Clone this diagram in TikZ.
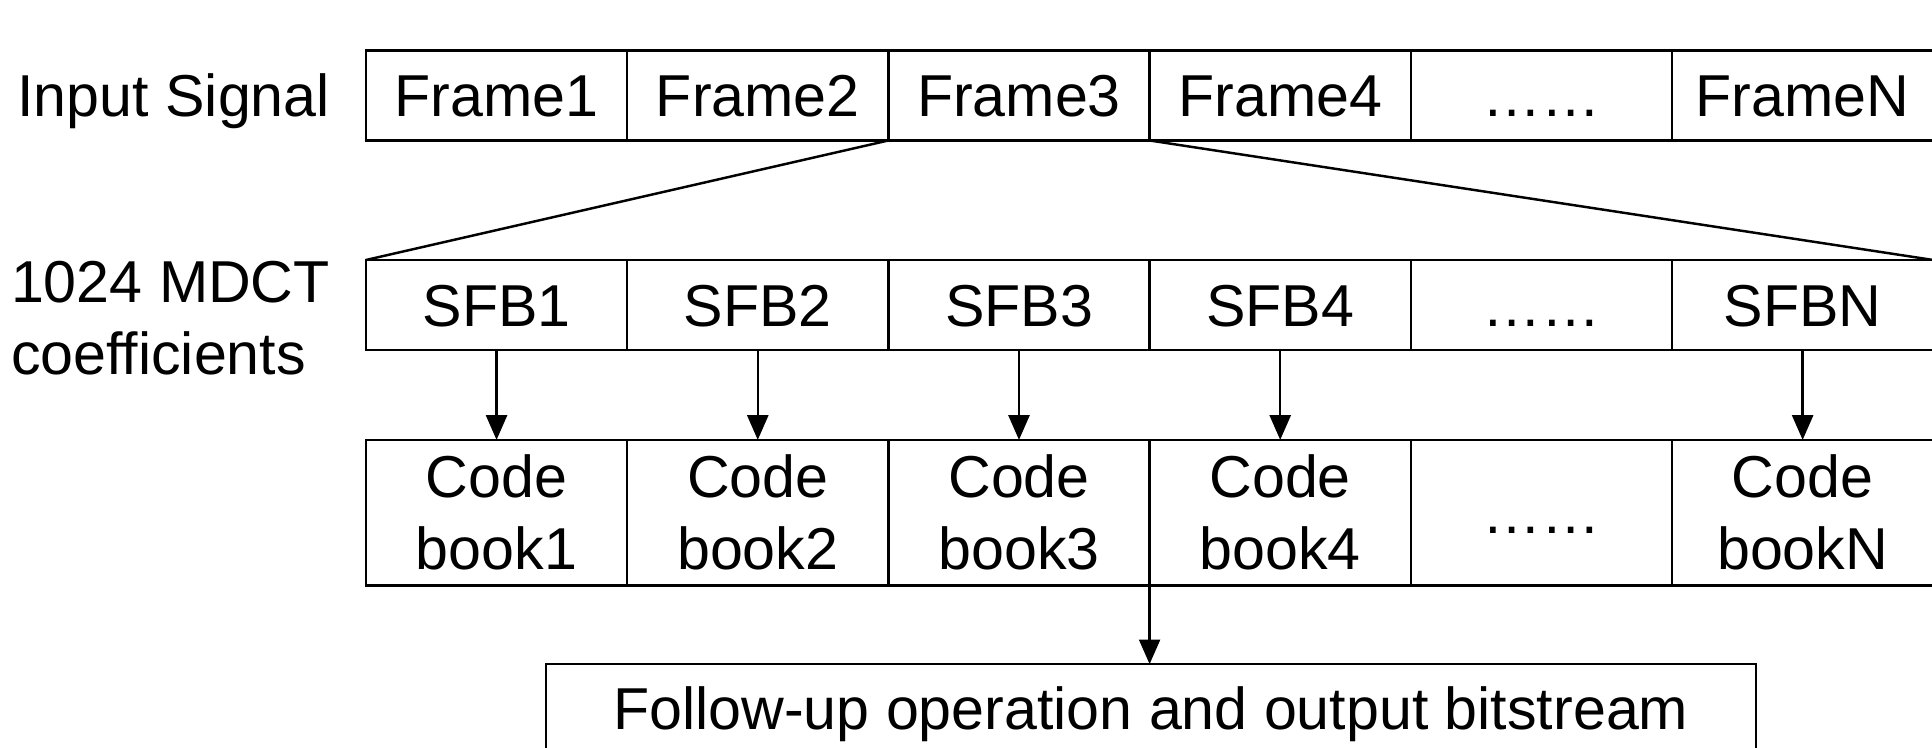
\documentclass[tikz,border=0pt]{standalone}
\usepackage{fontspec}
\setmainfont{Liberation Sans}
\usetikzlibrary{arrows.meta}
\begin{document}
\begin{tikzpicture}[x=0.5pt,y=-0.5pt,
  line width=1pt,
  txt/.style={font=\fontsize{24}{29}\selectfont},
  capc/.style={text height=17.2pt,text depth=0pt},
  cell/.style={txt,capc,draw,inner sep=0pt,outer sep=0pt,minimum width=106pt,minimum height=36.5pt},
  tallcell/.style={txt,draw,inner sep=0pt,outer sep=0pt,minimum width=106pt,minimum height=59pt,align=center},
  arr/.style={-{Triangle[length=10pt,width=8.5pt]}}]
\useasboundingbox (0,0) rectangle (1568,607);
% row 1
\node[txt,capc,inner sep=0pt] (lin) at (141,77.5) {Input Signal};
\node[cell] (f1) at (403,77.5) {Frame1};
\node[cell] (f2) at (615,77.5) {Frame2};
\node[cell] (f3) at (827,77.5) {Frame3};
\node[cell] (f4) at (1039,77.5) {Frame4};
\node[cell] (f5) at (1251,77.5) {……};
\node[cell] (f6) at (1463,77.5) {FrameN};
% row 2
\node[txt,align=left,anchor=west,inner sep=0pt] (lmd) at (8,258) {1024 MDCT\\coefficients};
\node[cell] (s1) at (403,247.5) {SFB1};
\node[cell] (s2) at (615,247.5) {SFB2};
\node[cell] (s3) at (827,247.5) {SFB3};
\node[cell] (s4) at (1039,247.5) {SFB4};
\node[cell] (s5) at (1251,247.5) {……};
\node[cell] (s6) at (1463,247.5) {SFBN};
% row 3
\node[tallcell] (c1) at (403,416) {Code\\book1};
\node[tallcell] (c2) at (615,416) {Code\\book2};
\node[tallcell] (c3) at (827,416) {Code\\book3};
\node[tallcell] (c4) at (1039,416) {Code\\book4};
\node[cell,minimum height=59pt] (c5) at (1251,416) {……};
\node[tallcell] (c6) at (1463,416) {Code\\bookN};
% output
\node[txt,capc,draw,inner sep=0pt,outer sep=0pt,minimum width=491pt,minimum height=36pt] (out) at (934,575) {Follow-up operation and output bitstream};
% connectors
\draw (f3.south west) -- (s1.north west);
\draw (f3.south east) -- (s6.north east);
\draw[arr] (s1.south) -- (c1.north);
\draw[arr] (s2.south) -- (c2.north);
\draw[arr] (s3.south) -- (c3.north);
\draw[arr] (s4.south) -- (c4.north);
\draw[arr] (s6.south) -- (c6.north);
\draw[arr] (c3.south east) -- (c3.south east |- out.north);
\end{tikzpicture}
\end{document}
